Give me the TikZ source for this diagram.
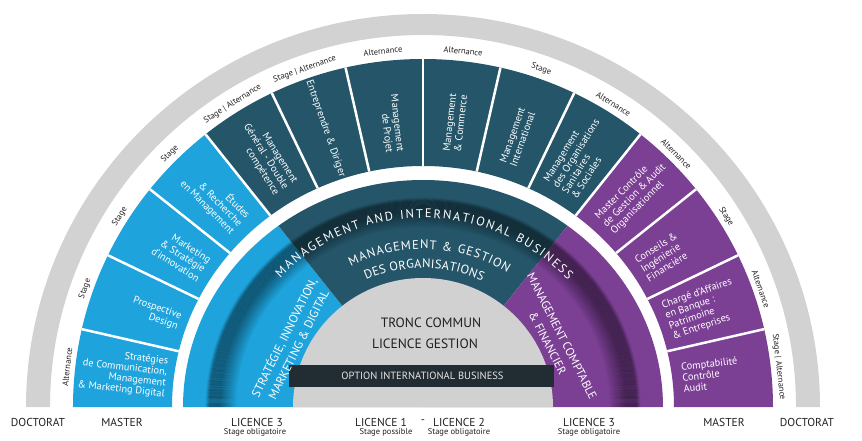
\documentclass[tikz,border=0pt]{standalone}
\usepackage{fontspec}
\setmainfont{PT Sans}
\usetikzlibrary{decorations.text}
\definecolor{cblue}{HTML}{1EA3DC}
\definecolor{cteal}{HTML}{245569}
\definecolor{cpurple}{HTML}{7B3F94}
\definecolor{cgray}{HTML}{D2D2D2}
\definecolor{cdome}{HTML}{D1D1D1}
\definecolor{cbar}{HTML}{222D33}
\definecolor{ctext}{HTML}{231F20}
\newcommand\bandfont{\fontsize{12.5}{14}\selectfont}
\newcommand\mgfont{\fontsize{12.5}{14}\selectfont}
\begin{document}
\begin{tikzpicture}[x=1pt,y=1pt,
  segL/.style={anchor=east, align=right, text=white, inner sep=0pt, font=\fontsize{10.3}{11}\selectfont},
  segR/.style={anchor=west, align=left, text=white, inner sep=0pt, font=\fontsize{10.3}{11}\selectfont},
  modlab/.style={text=ctext, inner sep=0pt, font=\fontsize{8.5}{10}\selectfont},
  lvl/.style={text=ctext, inner sep=0pt, font=\fontsize{11.5}{13}\selectfont},
  lvlnote/.style={text=ctext, inner sep=0pt, font=\fontsize{8.5}{10}\selectfont},
  secttext/.style={text=white, align=center, inner sep=0pt, font=\fontsize{12}{16}\selectfont},
]
\useasboundingbox (-423,-33) rectangle (439,407);

% outer gray ring
\fill[cgray] (-397,0) arc[start angle=180,end angle=0,x radius=397,y radius=393]
  -- (373,0) arc[start angle=0,end angle=180,x radius=373,y radius=372] -- cycle;

% master ring
\begin{scope}
\clip (-350,0) arc[start angle=180,end angle=0,x radius=350,y radius=348]
  -- (251,0) arc[start angle=0,end angle=180,x radius=251,y radius=241] -- cycle;
\fill[cblue] (0,0) -- (180:420) -- (155:420) -- (128.57:420) -- cycle;
\fill[cteal] (0,0) -- (128.57:420) -- (90:420) -- (51.43:420) -- cycle;
\fill[cpurple] (0,0) -- (51.43:420) -- (25:420) -- (0:420) -- cycle;
\foreach \k in {1,...,13} \draw[white, line width=2.5] (0,0) -- ({180-\k*180/14}:420);
\end{scope}

% licence 3 ring
\begin{scope}
\clip (-240,0) arc[start angle=180,end angle=0,x radius=240,y radius=227] -- cycle;
\fill[cblue] (0,0) -- (180:300) -- (128.57:300) -- cycle;
\fill[cteal] (0,0) -- (128.57:300) -- (90:300) -- (51.43:300) -- cycle;
\fill[cpurple] (0,0) -- (51.43:300) -- (0:300) -- cycle;
\foreach \i in {0,...,31}{
  \pgfmathsetmacro\rx{186+\i}
  \pgfmathsetmacro\ry{0.963*(186+\i)}
  \pgfmathsetmacro\op{(\i<28) ? 0.38*min(1,\i/17) : 0.38*(31.5-\i)/4}
  \draw[black, opacity=\op, line width=1.1] (-\rx,0) arc[start angle=180,end angle=0,x radius=\rx,y radius=\ry];
}
\end{scope}

% dome
\fill[cdome] (-130,0) arc[start angle=180,end angle=0,x radius=130,y radius=129] -- cycle;
\fill[cbar] (-134,20) rectangle (131,42);

% arc texts
\path[decorate, decoration={text along path, text={|\bandfont|MANAGEMENT AND INTERNATIONAL BUSINESS}, text align={fit to path}, text color=white}]
  (137:195pt and 189pt) arc[start angle=137, end angle=42, x radius=195, y radius=189];
\path[decorate, decoration={text along path, text={|\mgfont|MANAGEMENT {\&} GESTION}, text align={fit to path}, text color=white}]
  (117:159pt and 158pt) arc[start angle=117, end angle=58, x radius=159, y radius=158];
\path[decorate, decoration={text along path, text={|\mgfont|DES ORGANISATIONS}, text align={fit to path}, text color=white}]
  (114:140pt and 139pt) arc[start angle=114, end angle=65, x radius=140, y radius=139];

% inner sector texts
\node[secttext, rotate=63.4] (strat) at (153.4:148) {STRATÉGIE, INNOVATION,\\MARKETING \& DIGITAL};
\node[secttext, rotate=-63, font=\fontsize{11.8}{16}\selectfont] (compt) at (27:148) {MANAGEMENT COMPTABLE\\\& FINANCIER};

\node[text=ctext, inner sep=0pt, font=\fontsize{13.5}{15}\selectfont] (tronc) at (8,84) {TRONC COMMUN};
\node[text=ctext, inner sep=0pt, font=\fontsize{13.5}{15}\selectfont] (licg) at (2,63) {LICENCE GESTION};
\node[text=white!90!black, inner sep=0pt, font=\fontsize{10.5}{12}\selectfont] (opt) at (-0.5,31) {OPTION INTERNATIONAL BUSINESS};

% master segment texts
\node[segL, rotate=-6.43] (m1) at (173.57:258) {Stratégies\\de Communication,\\Management\\\& Marketing Digital};
\node[segL, rotate=-19.29] (m2) at (160.71:258) {Prospective\\Design};
\node[segL, rotate=-32.14] (m3) at (147.86:258) {Marketing\\\& Stratégie\\d’innovation};
\node[segL, rotate=-45] (m4) at (135:258) {Études\\\& Recherche\\en Management};
\node[segL, rotate=-57.86] (m5) at (122.14:258) {Management\\Général - Double\\compétence};
\node[segL, rotate=-70.71] (m6) at (109.29:244) {Entreprendre \& Diriger};
\node[segL, rotate=-83.57] (m7) at (96.43:256) {Management\\de Projet};
\node[segR, rotate=83.57] (m8) at (83.57:257) {Management\\\& Commerce};
\node[segR, rotate=70.71] (m9) at (70.71:257) {Management\\International};
\node[segR, rotate=57.86] (m10) at (57.86:257) {Management\\des Organisations\\Sanitaires\\\& Sociales};
\node[segR, rotate=45] (m11) at (45:257) {Master Contrôle\\de Gestion \& Audit\\Organisationnel};
\node[segR, rotate=32.14] (m12) at (32.14:258) {Conseils \&\\Ingénierie\\Financière};
\node[segR, rotate=19.29] (m13) at (19.29:259) {Chargé d’Affaires\\en Banque :\\Patrimoine\\\& Entreprises};
\node[segR, rotate=6.43] (m14) at (6.43:261) {Comptabilité\\Contrôle\\Audit};

% labels above segments
\node[modlab, rotate=83.57] (a1) at (173.57:358) {Alternance};
\node[modlab, rotate=70.71] (a2) at (160.71:358) {Stage};
\node[modlab, rotate=57.86] (a3) at (147.86:358) {Stage};
\node[modlab, rotate=45] (a4) at (135:358) {Stage};
\node[modlab, rotate=32.14] (a5) at (122.14:358) {Stage | Alternance};
\node[modlab, rotate=19.29] (a6) at (109.29:358) {Stage | Alternance};
\node[modlab, rotate=6.43] (a7) at (96.43:358) {Alternance};
\node[modlab, rotate=-6.43] (a8) at (83.57:358) {Alternance};
\node[modlab, rotate=-19.29] (a9) at (70.71:358) {Stage};
\node[modlab, rotate=-32.14] (a10) at (57.86:358) {Alternance};
\node[modlab, rotate=-45] (a11) at (45:358) {Alternance};
\node[modlab, rotate=-57.86] (a12) at (32.14:358) {Stage};
\node[modlab, rotate=-70.71] (a13) at (19.29:358) {Alternance};
\node[modlab, rotate=-83.57] (a14) at (6.43:358) {Stage | Alternance};

% bottom levels
\node[lvl] (docL) at (-385,-15) {DOCTORAT};
\node[lvl] (masL) at (-301,-15) {MASTER};
\node[lvl] (l3L) at (-166,-15) {LICENCE 3};
\node[lvlnote] (l3Ln) at (-168,-25) {Stage obligatoire};
\node[lvl] (lic1) at (-42,-15) {LICENCE 1};
\node[lvl] (dash) at (0,-15) {-};
\node[lvl] (lic2) at (36,-15) {LICENCE 2};
\node[lvlnote] (l1n) at (-37,-25) {Stage possible};
\node[lvlnote] (l2n) at (36,-25) {Stage obligatoire};
\node[lvl] (l3R) at (166,-15) {LICENCE 3};
\node[lvlnote] (l3Rn) at (166,-25) {Stage obligatoire};
\node[lvl] (masR) at (301,-15) {MASTER};
\node[lvl] (docR) at (384,-15) {DOCTORAT};
\end{tikzpicture}
\end{document}
